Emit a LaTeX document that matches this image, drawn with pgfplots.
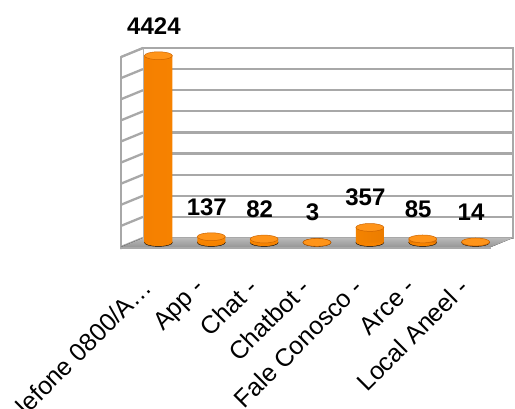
\documentclass[border=0pt]{standalone}
\usepackage{pgfplots}
\pgfplotsset{compat=1.18}
\usepackage{fontspec}
\setmainfont{Liberation Sans}
\definecolor{gridc}{RGB}{168,168,168}
\definecolor{floorc}{RGB}{150,150,150}
\definecolor{floorl}{RGB}{185,185,185}
\definecolor{barL}{RGB}{245,128,0}
\definecolor{barM}{RGB}{255,140,0}
\definecolor{barR}{RGB}{205,100,0}
\definecolor{barB}{RGB}{245,130,0}
\definecolor{barT}{RGB}{255,148,25}
\pgfplotstableread{
x y
0 4424
1 137
2 82
3 3
4 357
5 85
6 14
}\datatab
\pgfplotstableread{
x y
0 0
1 0
2 0
3 0
4 0
5 0
6 0
}\basetab
\pgfplotsset{baraxis/.style={at={(132pt,165.5pt)}, anchor=south west, scale only axis,
  width=370pt, height=190pt, xmin=-0.5, xmax=6.5, ymin=0, ymax=4500,
  clip=false, axis line style={draw=none}, ytick=\empty,
  major tick length=0pt, tick style={draw=none},
  /pgf/number format/assume math mode=true,
  /pgf/number format/1000 sep={}}}
\begin{document}
\begin{tikzpicture}[x=1pt,y=1pt]
\begin{axis}[at={(143pt,170pt)}, anchor=south west, scale only axis,
  width=370pt, height=190pt, xmin=-0.5, xmax=6.5, ymin=0, ymax=4500,
  ytick distance=500, xtick=\empty, yticklabels={}, major tick length=0pt,
  ymajorgrids, grid style={gridc, line width=2.3pt},
  axis line style={gridc, line width=1.8pt}, clip=false]
  % left wall
  \fill[white] (rel axis cs:0,0) -- (rel axis cs:0,1) -- ([shift={(-22pt,-9pt)}]rel axis cs:0,1) -- ([shift={(-22pt,-9pt)}]rel axis cs:0,0) -- cycle;
  \pgfplotsinvokeforeach{0,...,9}{
    \draw[gridc, line width=2.3pt] ([shift={(-22pt,-9pt)}]axis cs:-0.5,#1*500) -- (axis cs:-0.5,#1*500);
  }
  \draw[gridc, line width=1.8pt] ([shift={(-22pt,-11pt)}]rel axis cs:0,0) -- ([shift={(-22pt,-9pt)}]rel axis cs:0,1) -- (rel axis cs:0,1);
  % floor
  \fill[top color=floorl, bottom color=floorc] (rel axis cs:0,0) -- (rel axis cs:1,0) -- ([shift={(-22pt,-9pt)}]rel axis cs:1,0) -- ([shift={(-22pt,-9pt)}]rel axis cs:0,0) -- cycle;
  \draw[gridc, line width=1.2pt] ([shift={(-22pt,-10pt)}]rel axis cs:0,0) -- ([shift={(-22pt,-10pt)}]rel axis cs:1,0);
\end{axis}
% cylinder bases
\begin{axis}[baraxis, xtick=\empty]
  \addplot[only marks, mark=*, mark size=14pt, mark options={yscale=0.28, fill=barB, draw=none}] table[x=x,y=y] {\basetab};
\end{axis}
% bars, tops, labels
\begin{axis}[baraxis,
  xtick={0,...,6},
  xticklabels={Telefone 0800/A…, App -, Chat -, Chatbot -, Fale Conosco -, Arce -, Local Aneel -},
  xticklabel style={font=\fontsize{25}{30}\selectfont, xshift=-18pt, yshift=-34pt, rotate=45, anchor=north east, inner sep=0pt}]
  \addplot[ybar, bar width=28pt, draw=none, left color=barL, right color=barR, middle color=barM] table[x=x,y=y] {\datatab};
  \addplot[only marks, mark=*, mark size=14pt, mark options={yscale=0.28, fill=barT, draw=barR, line width=0.5pt},
    nodes near coords, nodes near coords style={font=\fontsize{24}{28}\selectfont\bfseries, anchor=south, inner sep=0pt, yshift=21pt, xshift=-4.5pt, text=black}] table[x=x,y=y] {\datatab};
\end{axis}
\pgfresetboundingbox
\useasboundingbox (0,0) rectangle (515,408);
\end{tikzpicture}
\end{document}
